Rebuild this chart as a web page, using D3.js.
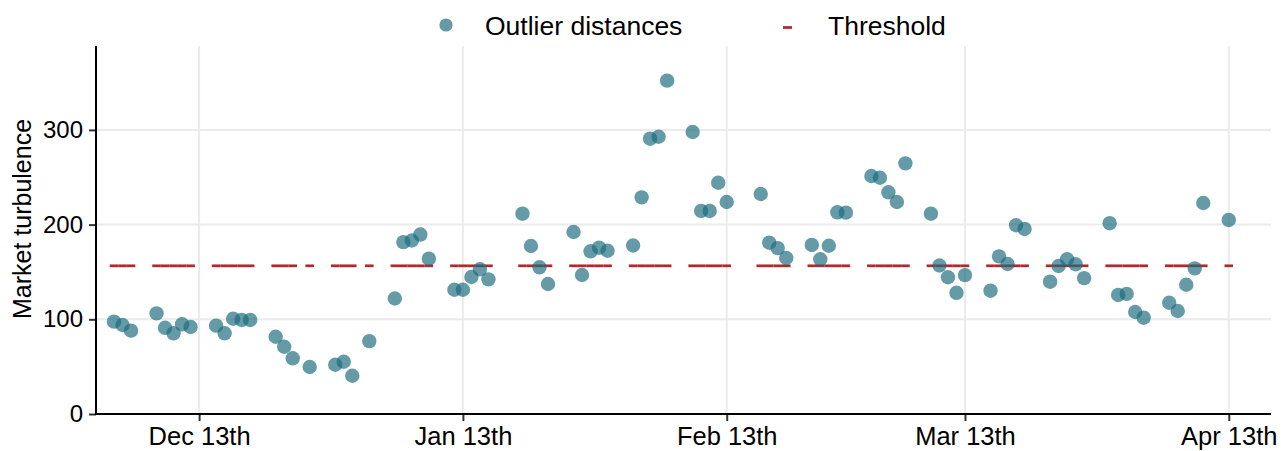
<!DOCTYPE html>
<html>
<head>
<meta charset="utf-8">
<script src="https://cdn.jsdelivr.net/npm/d3@7"></script>
<style>
  html, body { margin: 0; padding: 0; background: #fff; }
  svg { display: block; font-family: "Liberation Sans", Arial, sans-serif; }
</style>
</head>
<body>
<svg id="chart" width="1281" height="451"></svg>
<script>
// Trading days (Dec 2014 – Apr 2015) and the turbulence measured on each
const dates = [
  "2014-12-03","2014-12-04","2014-12-05",
  "2014-12-08","2014-12-09","2014-12-10","2014-12-11","2014-12-12",
  "2014-12-15","2014-12-16","2014-12-17","2014-12-18","2014-12-19",
  "2014-12-22","2014-12-23","2014-12-24","2014-12-26",
  "2014-12-29","2014-12-30","2014-12-31","2015-01-02",
  "2015-01-05","2015-01-06","2015-01-07","2015-01-08","2015-01-09",
  "2015-01-12","2015-01-13","2015-01-14","2015-01-15","2015-01-16",
  "2015-01-20","2015-01-21","2015-01-22","2015-01-23",
  "2015-01-26","2015-01-27","2015-01-28","2015-01-29","2015-01-30",
  "2015-02-02","2015-02-03","2015-02-04","2015-02-05","2015-02-06",
  "2015-02-09","2015-02-10","2015-02-11","2015-02-12","2015-02-13",
  "2015-02-17","2015-02-18","2015-02-19","2015-02-20",
  "2015-02-23","2015-02-24","2015-02-25","2015-02-26","2015-02-27",
  "2015-03-02","2015-03-03","2015-03-04","2015-03-05","2015-03-06",
  "2015-03-09","2015-03-10","2015-03-11","2015-03-12","2015-03-13",
  "2015-03-16","2015-03-17","2015-03-18","2015-03-19","2015-03-20",
  "2015-03-23","2015-03-24","2015-03-25","2015-03-26","2015-03-27",
  "2015-03-30","2015-03-31","2015-04-01","2015-04-02","2015-04-03",
  "2015-04-06","2015-04-07","2015-04-08","2015-04-09","2015-04-10",
  "2015-04-13"
];

const outlierDistances = [
  97.5, 94, 88,
  106.3, 91, 85.2, 94.7, 91.9,
  93.3, 85.2, 100.6, 99.3, 99.3,
  81.6, 71, 58.8, 49.6,
  52, 55.2, 40.4, 77,
  122, 181.5, 183.2, 189.5, 164,
  131.2, 131.2, 144.7, 152.8, 142.2,
  211.5, 177.4, 154.9, 137.3,
  192.2, 146.8, 171.8, 175.6, 172.4,
  177.9, 228.8, 290.7, 292.8, 352,
  297.8, 214.4, 214.4, 244.2, 223.9,
  232.3, 180.9, 175.2, 164.7,
  178.5, 163.4, 177.7, 213, 212.6,
  251.3, 249.5, 234.1, 223.9, 264.7,
  211.5, 156.8, 144.4, 128, 146.7,
  130.2, 166.5, 158.4, 199.3, 195.4,
  139.7, 156.3, 163.4, 158.1, 143.5,
  201.5, 125.7, 126.8, 107.7, 101.7,
  117.5, 108.8, 136.5, 153.8, 222.8,
  204.9
];

// Turbulence threshold (same level every day)
const thresholdLevel = 156.5;

const xTickDates = ["2014-12-13","2015-01-13","2015-02-13","2015-03-13","2015-04-13"];
const yTicks = [0, 100, 200, 300];
const legendLabels = ["Outlier distances", "Threshold"];

const parse = d3.utcParse("%Y-%m-%d");
const rows = dates.map((d, i) => ({
  date: parse(d),
  value: outlierDistances[i],
  threshold: thresholdLevel
}));

const svg = d3.select("#chart");
const panel = { left: 96, right: 1271, top: 46, bottom: 414 };

const DAY = 864e5;
const firstDay = parse(dates[0]);
const x = d3.scaleUtc()
  .domain([new Date(+firstDay - 2.115 * DAY), new Date(+firstDay + 135.96 * DAY)])
  .range([panel.left, panel.right]);

const y = d3.scaleLinear()
  .domain([0, 388.6])
  .range([panel.bottom, panel.top]);

const pointColor = "#1a6b7e";
const lineColor = "#b2282b";
const fontFamily = "'Liberation Sans', Arial, sans-serif";

// Gridlines
const grid = svg.append("g").attr("class", "grid");
grid.selectAll("line.h")
  .data(yTicks)
  .join("line")
  .attr("class", "h")
  .attr("x1", panel.left).attr("x2", panel.right)
  .attr("y1", d => y(d)).attr("y2", d => y(d))
  .attr("stroke", "#ebebeb").attr("stroke-width", 2);
grid.selectAll("line.v")
  .data(xTickDates.map(parse))
  .join("line")
  .attr("class", "v")
  .attr("x1", d => x(d)).attr("x2", d => x(d))
  .attr("y1", panel.top).attr("y2", panel.bottom)
  .attr("stroke", "#ebebeb").attr("stroke-width", 2);

// Threshold: a short dash at each trading day
svg.append("g").attr("class", "threshold")
  .selectAll("line")
  .data(rows)
  .join("line")
  .attr("x1", d => x(d.date) - 4.3)
  .attr("x2", d => x(d.date) + 4.3)
  .attr("y1", d => y(d.threshold))
  .attr("y2", d => y(d.threshold))
  .attr("stroke", lineColor)
  .attr("stroke-width", 2.7);

// Outlier distance points
svg.append("g").attr("class", "points")
  .selectAll("circle")
  .data(rows)
  .join("circle")
  .attr("cx", d => x(d.date))
  .attr("cy", d => y(d.value))
  .attr("r", 7.2)
  .attr("fill", pointColor)
  .attr("fill-opacity", 0.68);

// Axes
const ordinal = n => {
  const s = ["th", "st", "nd", "rd"], v = n % 100;
  return n + (s[(v - 20) % 10] || s[v] || s[0]);
};
const fmtMonth = d3.utcFormat("%b");

const xAxis = d3.axisBottom(x)
  .tickValues(xTickDates.map(parse))
  .tickFormat(d => fmtMonth(d) + " " + ordinal(d.getUTCDate()))
  .tickSize(7)
  .tickPadding(6);
const gx = svg.append("g")
  .attr("transform", `translate(0,${panel.bottom})`)
  .call(xAxis);
gx.select(".domain").remove();
gx.selectAll(".tick line").attr("stroke", "#333").attr("stroke-width", 2);
gx.selectAll(".tick text")
  .attr("fill", "#000")
  .style("font-size", "25.5px")
  .style("font-family", fontFamily);

const yAxis = d3.axisLeft(y)
  .tickValues(yTicks)
  .tickSize(7)
  .tickPadding(6);
const gy = svg.append("g")
  .attr("transform", `translate(${panel.left},0)`)
  .call(yAxis);
gy.select(".domain").remove();
gy.selectAll(".tick line").attr("stroke", "#333").attr("stroke-width", 2);
gy.selectAll(".tick text")
  .attr("fill", "#000")
  .style("font-size", "24px")
  .style("font-family", fontFamily);

// Axis lines
svg.append("line")
  .attr("x1", panel.left).attr("x2", panel.left)
  .attr("y1", panel.top).attr("y2", panel.bottom + 1)
  .attr("stroke", "#000").attr("stroke-width", 2);
svg.append("line")
  .attr("x1", panel.left - 1).attr("x2", panel.right)
  .attr("y1", panel.bottom).attr("y2", panel.bottom)
  .attr("stroke", "#000").attr("stroke-width", 2);

// Y axis title
svg.append("text")
  .attr("transform", `translate(31,${(panel.top + panel.bottom) / 2 - 11}) rotate(-90)`)
  .attr("text-anchor", "middle")
  .style("font-size", "25px")
  .attr("fill", "#000")
  .text("Market turbulence");

// Legend
const legend = svg.append("g").attr("class", "legend");
legend.append("circle")
  .attr("cx", 446).attr("cy", 25).attr("r", 6.6)
  .attr("fill", pointColor).attr("fill-opacity", 0.68);
legend.append("text")
  .attr("x", 485).attr("y", 35)
  .style("font-size", "26.5px")
  .attr("fill", "#000")
  .text(legendLabels[0]);
legend.append("line")
  .attr("x1", 783).attr("x2", 792)
  .attr("y1", 27.5).attr("y2", 27.5)
  .attr("stroke", lineColor).attr("stroke-width", 2.7);
legend.append("text")
  .attr("x", 828).attr("y", 35)
  .style("font-size", "26.5px")
  .attr("fill", "#000")
  .text(legendLabels[1]);
</script>
</body>
</html>
